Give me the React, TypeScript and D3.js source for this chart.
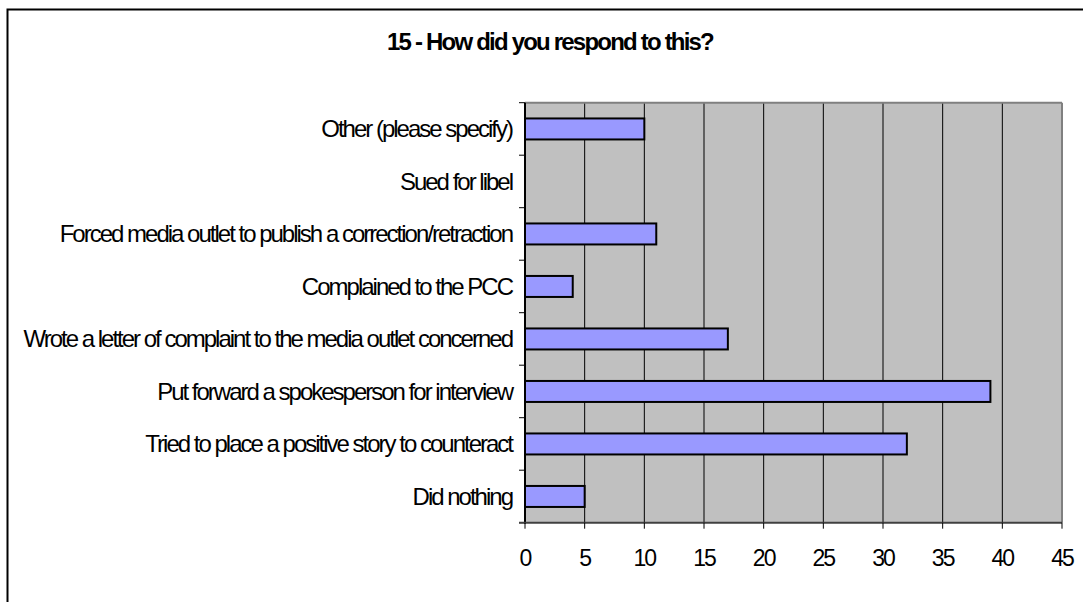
import React from "react";
import * as d3 from "d3";

const categories = [
  "Other (please specify)",
  "Sued for libel",
  "Forced media outlet to publish a correction/retraction",
  "Complained to the PCC",
  "Wrote a letter of complaint to the media outlet concerned",
  "Put forward a spokesperson for interview",
  "Tried to place a positive story to counteract",
  "Did nothing",
];
const values = [10, 0, 11, 4, 17, 39, 32, 5];
const xTicks = [0, 5, 10, 15, 20, 25, 30, 35, 40, 45];
const title = "15 - How did you respond to this?";

export default function App() {
  const W = 1083, H = 602;
  const left = 525, right = 1062, top = 102.7, bottom = 522.7;
  const x = d3.scaleLinear().domain([0, 45]).range([left, right]);
  const y = d3.scaleBand().domain(categories).range([top, bottom]).paddingInner(0).paddingOuter(0);
  const bh = y.bandwidth();
  const font = "'Liberation Sans', Arial, sans-serif";
  return (
    <svg width={W} height={H} style={{ position: "fixed", left: 0, top: 0, display: "block", background: "#fff" }}>
      <rect x={7.5} y={9.5} width={W + 20} height={H + 20} fill="#fff" stroke="#000" strokeWidth={2} />
      <text x={550} y={50} textAnchor="middle" fontFamily={font} fontWeight="bold" fontSize={24} letterSpacing={-1.8} fill="#000">
        {title}
      </text>
      <rect x={left} y={top} width={right - left} height={bottom - top} fill="#C0C0C0" />
      {xTicks.slice(1, -1).map((t) => (
        <line key={t} x1={x(t)} x2={x(t)} y1={top} y2={bottom} stroke="#000" strokeWidth={1} />
      ))}
      <line x1={left} x2={right} y1={top} y2={top} stroke="#808080" strokeWidth={2} />
      <line x1={right} x2={right} y1={top} y2={bottom} stroke="#808080" strokeWidth={2} />
      {categories.map((c, i) => {
        const yc = (y(c) as number) + bh / 2;
        return (
          <g key={c}>
            {values[i] > 0 && (
              <rect x={x(0)} y={(y(c) as number) + bh * 0.3} width={x(values[i]) - x(0)} height={bh * 0.4}
                fill="#9999FF" stroke="#000" strokeWidth={2} />
            )}
            <text x={512} y={yc} dy="0.35em" textAnchor="end" fontFamily={font} fontSize={24} letterSpacing={-2} fill="#000">
              {c}
            </text>
          </g>
        );
      })}
      {y.domain().map((c) => (
        <line key={"t" + c} x1={519} x2={left} y1={y(c)} y2={y(c)} stroke="#000" strokeWidth={1} />
      ))}
      <line x1={519} x2={left} y1={bottom} y2={bottom} stroke="#000" strokeWidth={1} />
      <line x1={left} x2={left} y1={top} y2={bottom + 1} stroke="#000" strokeWidth={2} />
      <line x1={519} x2={right} y1={bottom} y2={bottom} stroke="#404040" strokeWidth={2} />
      {xTicks.map((t) => (
        <g key={"x" + t}>
          <line x1={x(t)} x2={x(t)} y1={bottom} y2={bottom + 6} stroke="#000" strokeWidth={1} />
          <text x={x(t)} y={566} textAnchor="middle" fontFamily={font} fontSize={23} letterSpacing={-2} fill="#000">
            {t}
          </text>
        </g>
      ))}
    </svg>
  );
}
